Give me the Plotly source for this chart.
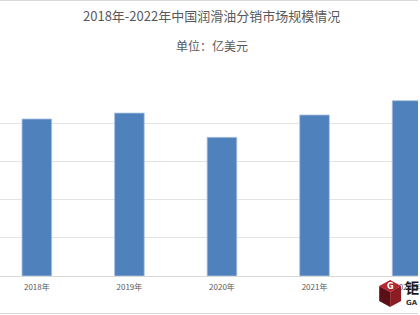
import plotly.graph_objects as go

years = ["2018年", "2019年", "2020年", "2021年", "2022年"]
values = [82.2, 85.3, 72.6, 84.3, 91.8]
title_text = "2018年-2022年中国润滑油分销市场规模情况"
subtitle_text = "单位：亿美元"

W, H = 420, 315
B, T = 39, 85  # margins (px)
PH = H - B - T


def py(p):
    return (H - B - p) / PH


def px(p):
    return p / W


fig = go.Figure()
fig.add_trace(go.Bar(
    x=years, y=values,
    marker=dict(color="#4F81BD", line=dict(color="#A9C1E0", width=0.8)),
    width=0.32,
    hoverinfo="skip",
))

font_cjk = "Noto Sans CJK SC"

fig.update_layout(
    width=W, height=H,
    margin=dict(l=0, r=0, t=T, b=B),
    paper_bgcolor="white", plot_bgcolor="white",
    showlegend=False,
    bargap=0.68,
    xaxis=dict(
        type="category",
        range=[-0.398, 4.118],
        showline=True, linecolor="#D9D9D9", linewidth=1.2,
        ticks="", showgrid=False,
        tickfont=dict(family=font_cjk, size=8, color="#595959"),
        ticklabelstandoff=3,
    ),
    yaxis=dict(
        range=[0, 100], dtick=20,
        showgrid=True, gridcolor="#E3E3E3", gridwidth=1,
        showticklabels=False, zeroline=False, ticks="",
    ),
    annotations=[
        dict(text=title_text, xref="paper", yref="paper",
             x=px(213), y=py(16), xanchor="center", yanchor="middle",
             showarrow=False, font=dict(family=font_cjk, size=13, color="#595959")),
        dict(text=subtitle_text, xref="paper", yref="paper",
             x=px(213), y=py(46), xanchor="center", yanchor="middle",
             showarrow=False, font=dict(family=font_cjk, size=12, color="#595959")),
        dict(text="<b>钜</b>", xref="paper", yref="paper",
             x=px(405), y=py(287), xanchor="left", yanchor="middle",
             showarrow=False, font=dict(family=font_cjk, size=14, color="#1a1a1a")),
        dict(text="<b>GA</b>", xref="paper", yref="paper",
             x=px(406), y=py(303), xanchor="left", yanchor="middle",
             showarrow=False, font=dict(family="DejaVu Sans", size=7, color="#333333")),
        dict(text="<b>G</b>", xref="paper", yref="paper",
             x=px(392), y=py(286), xanchor="center", yanchor="middle",
             showarrow=False, font=dict(family="DejaVu Sans", size=8, color="white")),
    ],
)


def poly(points, color):
    path = "M " + " L ".join(f"{px(a)} {py(b)}" for a, b in points) + " Z"
    fig.add_shape(type="path", path=path, xref="paper", yref="paper",
                  fillcolor=color, line=dict(width=0), layer="above")


poly([(392, 280), (403, 286), (392, 292), (381, 286)], "#B5262F")
poly([(381, 286), (392, 292), (392, 307), (381, 301)], "#5A1016")
poly([(392, 292), (403, 286), (403, 301), (392, 307)], "#8C1C23")

# frame lines top and bottom
for yy in (0.5, 313.5):
    fig.add_shape(type="line", xref="paper", yref="paper",
                  x0=0, x1=1, y0=py(yy), y1=py(yy),
                  line=dict(color="#D9D9D9", width=1.2))

fig.write_html("out.html")
